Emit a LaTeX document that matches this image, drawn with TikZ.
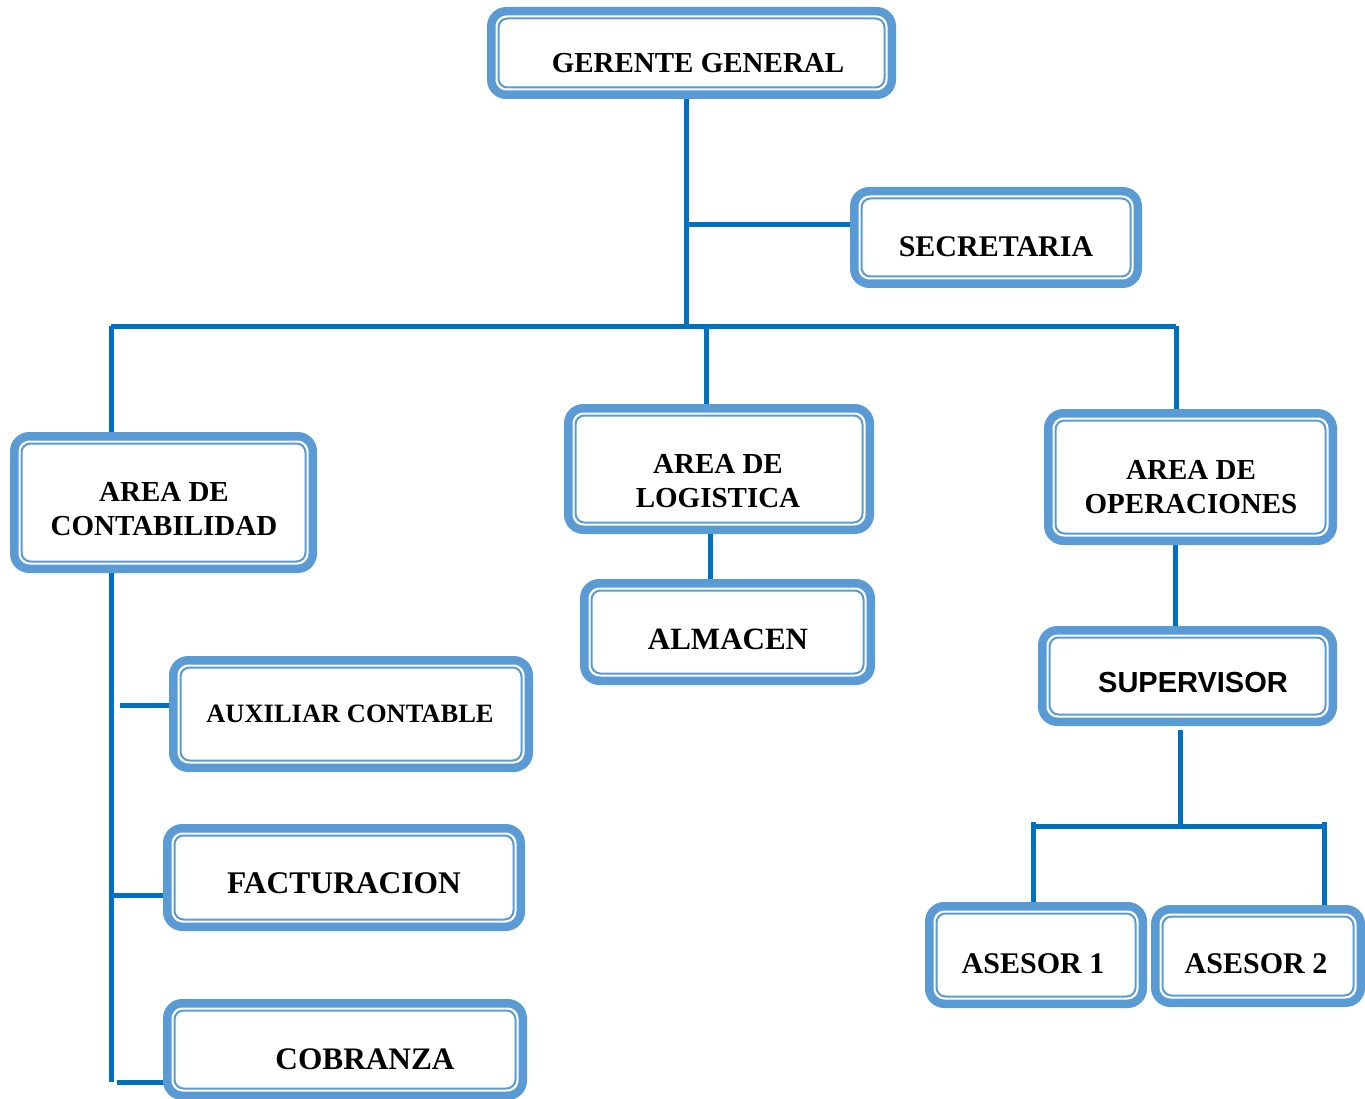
\documentclass[tikz,border=0pt]{standalone}
\usepackage{fontspec}
\setmainfont{Liberation Serif}
\newfontfamily\arialb{Liberation Sans}
\usetikzlibrary{calc}
\definecolor{lb}{HTML}{5B9BD5}
\definecolor{ln}{HTML}{0070C0}
\tikzset{
  ob/.style={draw=lb, line width=8.5pt, rounded corners=15pt, fill=white, outer sep=0pt, inner sep=0pt},
  ib/.style={draw=lb, line width=2pt, rounded corners=9pt},
  cn/.style={draw=ln, line width=5pt},
  tx/.style={font=\bfseries\fontsize{29}{34}\selectfont, align=center, inner sep=0pt, text=black},
}
\newcommand\obox[5]{%
  \node[ob, minimum width={(#4-#2-8.5)*1pt}, minimum height={(#5-#3-8.5)*1pt}] (#1) at ({(#2+#4)/2},{(#3+#5)/2}) {};
  \draw[ib] ($(#1.north west)+(7.25pt,-7.25pt)$) rectangle ($(#1.south east)+(-7.25pt,7.25pt)$);}
\begin{document}
\begin{tikzpicture}[x=1pt,y=-1pt]
\useasboundingbox (0,0) rectangle (1365,1099);
% junction coordinates
\coordinate (busC) at (686,326);
\coordinate (busL) at (111,326);
\coordinate (busM) at (706,326);
\coordinate (busR) at (1176,326);
\coordinate (secJ) at (686,225);
\coordinate (cbot) at (111,1082);
\coordinate (auxJ) at (120,705);
\coordinate (facJ) at (111,895);
\coordinate (cobJ) at (117,1082);
\coordinate (supJ) at (1180,826);
\coordinate (asL) at (1033,826);
\coordinate (asR) at (1324,826);
% connectors (drawn first, boxes cover ends)
\draw[cn] (busC |- 0,95) -- (busC);
\draw[cn] (secJ) -- (852,225);
\draw[cn] (busL) -- (busR);
\draw[cn] (busL) -- (111,436);
\draw[cn] (busM) -- (706,408);
\draw[cn] (busR) -- (1176,413);
\draw[cn] (710,530) -- (710,583);
\draw[cn] (111,569) -- (cbot);
\draw[cn] (auxJ) -- (169,705);
\draw[cn] (facJ) -- (166,895);
\draw[cn] (cobJ) -- (170,1082);
\draw[cn] (1175,541) -- (1175,630);
\draw[cn] (1180,730) -- (supJ);
\draw[cn] (asL |- 0,822) -- (asL) -- (asR) -- (asR |- 0,822);
\draw[cn] (asL) -- (1033,906);
\draw[cn] (asR) -- (1324,909);
% boxes
\obox{ger}{487}{7}{896}{99}
\obox{sec}{850}{187}{1142}{288}
\obox{con}{10}{432}{317}{573}
\obox{log}{564}{404}{874}{534}
\obox{ope}{1044}{409}{1337}{545}
\obox{alm}{580}{579}{875}{685}
\obox{sup}{1038}{626}{1337}{726}
\obox{aux}{169}{656}{533}{772}
\obox{fac}{163}{824}{525}{931}
\obox{cob}{163}{999}{527}{1100}
\obox{as1}{925}{902}{1147}{1008}
\obox{as2}{1151}{905}{1365}{1007}
% texts
\node[tx] (tger) at (698,63) {GERENTE GENERAL};
\node[tx, font=\bfseries\fontsize{30}{34}\selectfont] (tsec) at (996,247) {SECRETARIA};
\node[tx] (tcon) at (164,509) {AREA DE\\CONTABILIDAD};
\node[tx] (tlog) at (718,481) {AREA DE\\LOGISTICA};
\node[tx] (tope) at (1191,487) {AREA DE\\OPERACIONES};
\node[tx, font=\bfseries\fontsize{31}{34}\selectfont] (talm) at (728,639) {ALMACEN};
\node[tx, font=\arialb\bfseries\fontsize{29}{34}\selectfont] (tsup) at (1193,683) {SUPERVISOR};
\node[tx, font=\bfseries\fontsize{26.5}{34}\selectfont] (taux) at (350,714) {AUXILIAR CONTABLE};
\node[tx, font=\bfseries\fontsize{31.5}{34}\selectfont] (tfac) at (344,883) {FACTURACION};
\node[tx, font=\bfseries\fontsize{31.3}{34}\selectfont] (tcob) at (365,1059) {COBRANZA};
\node[tx, font=\bfseries\fontsize{30}{34}\selectfont] (tas1) at (1033,964) {ASESOR 1};
\node[tx, font=\bfseries\fontsize{30}{34}\selectfont] (tas2) at (1256,964) {ASESOR 2};
\end{tikzpicture}
\end{document}
